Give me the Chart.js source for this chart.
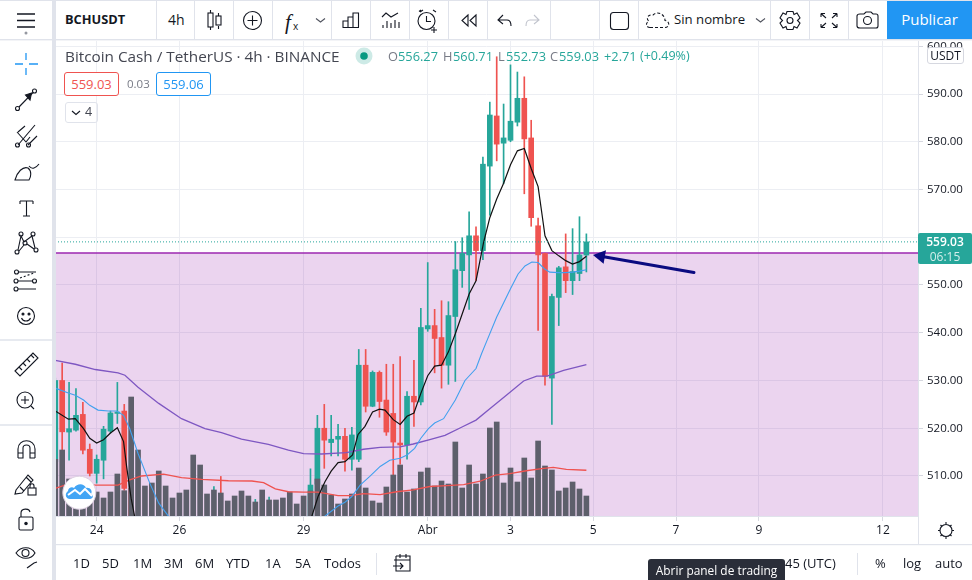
<!DOCTYPE html>
<html><head><meta charset="utf-8">
<script src="https://cdn.jsdelivr.net/npm/chart.js@4"></script>
<style>
html,body{margin:0;padding:0;background:#fff;width:972px;height:580px;overflow:hidden;font-family:"Open Sans",sans-serif;color:#131722}
#c{position:absolute;left:0;top:0}
.t{position:absolute;white-space:nowrap;line-height:1}
.box{position:absolute;box-sizing:border-box;border-radius:3px;background:#fff;text-align:center}
svg{position:absolute;left:0;top:0;pointer-events:none}
.g{color:#787b86}.v{color:#26a69a}
</style></head><body>
<canvas id="c" width="972" height="580" style="width:972px;height:580px"></canvas>
<svg width="972" height="580" viewBox="0 0 972 580" fill="none" stroke="#131722" stroke-width="1.1">
<!-- chrome backgrounds -->
<rect x="0" y="0" width="972" height="40" fill="#fff" stroke="none"/>
<rect x="0" y="0" width="52" height="580" fill="#fff" stroke="none"/>
<rect x="52" y="0" width="4" height="580" fill="#e0e3eb" stroke="none"/>
<rect x="0" y="0" width="972" height="1" fill="#e0e3eb" stroke="none"/>
<rect x="0" y="39" width="972" height="1.4" fill="#e0e3eb" stroke="none"/>
<rect x="56" y="544" width="916" height="36" fill="#fff" stroke="none"/>
<rect x="56" y="544" width="916" height="1.2" fill="#e0e3eb" stroke="none"/>
<g stroke="#e0e3eb" stroke-width="1">
<path d="M156.5 1V39M194.5 1V39M233.5 1V39M272.5 1V39M331.5 1V39M370.5 1V39M409.5 1V39M448.5 1V39M487.5 1V39M550.5 1V39M599.5 1V39M638.5 1V39M770.5 1V39M809.5 1V39M848.5 1V39"/>
<path d="M918.5 516V544M376.5 553V575M857.5 553V575"/>
<path d="M0 340H52M0 425H52" stroke-width="1.4"/>
</g>
<rect x="887" y="1" width="85" height="38" fill="#2196f3" stroke="none"/>
<!-- top toolbar icons -->
<path d="M17 14H35M17 20.5H35M17 27H35" stroke-width="1.6"/>
<circle cx="26" cy="33" r="1.5" fill="#9598a1" stroke="none"/>
<path d="M210.5 10V13M210.5 27V30M218.5 13V16M218.5 26V29"/><rect x="208" y="13" width="5" height="14"/><rect x="216" y="16" width="5" height="9"/>
<circle cx="252.5" cy="20.5" r="9"/><path d="M247.5 20.5H257.5M252.5 15.5V25.5"/>
<path d="M316 18.5L320.500 22L325 18.5" stroke="#50535e"/>
<path d="M342.500 27.500H359M343 27V21H348V27M348 27V17H353V27M353 27V13H358.500V27"/>
<path d="M382 17L386 13L391 17L398 13M383 28V25M387 28V21M391 28V23M395 28V20M399 28V22"/>
<circle cx="426.500" cy="21" r="8.500"/><path d="M426.500 16V21.500H431M420 12L423 10M433 10L436 12M419 11.500L421 10M434 27V33M431 30H437"/>
<path d="M468 15L462 20.500L468 26V15ZM476 15L470 20.500L476 26V15Z" stroke="#131722"/>
<path d="M503 15L498 20L503 24M498 20H507C510 20 511 23 511 26" />
<path d="M534 15L539 20L534 24M539 20H530C527 20 526 23 526 26" stroke="#c1c4cd"/>
<rect x="610.500" y="12.500" width="18" height="17" rx="3"/>
<path d="M650 27.500H665C670 27.500 670 21 665 20.500C665 15 658 10 653 15C647 14 646 20 649 21C645 23 646 27.500 650 27.500Z" stroke-dasharray="3 2"/>
<path d="M756 18.500L760.500 22L765 18.500" stroke="#50535e"/>
<circle cx="790" cy="20.500" r="3"/><path d="M787 11.500H793L794 14.500L797 13L800 18L797.500 20.500L800 23L797 28L794 26.500L793 29.500H787L786 26.500L783 28L780 23L782.500 20.500L780 18L783 13L786 14.500Z"/>
<path d="M821 13.500V17M821 13.500H825M821 13.500L826 18M837 13.500V17M837 13.500H833M837 13.500L832 18M821 27.500V24M821 27.500H825M821 27.500L826 23M837 27.500V24M837 27.500H833M837 27.500L832 23"/>
<path d="M860 14H864L866 12H871L873 14H876C877 14 878 15 878 16V26C878 27 877 28 876 28H860C858 28 857 27 857 26V16C857 15 858 14 860 14Z"/><circle cx="867.500" cy="20.500" r="4"/>
<!-- left toolbar icons -->
<path d="M26 53V60M26 68V75M15 64H23M29 64H38" stroke="#2196f3" stroke-width="1.3"/>
<circle cx="17.500" cy="108.500" r="2"/><circle cx="34.500" cy="91" r="2"/><path d="M19 107L33 92.500"/><path d="M25.500 95L31.500 93L30 100Z" fill="#131722"/>
<path d="M18 145L35 125M17 132L26 142L30 137M28 145L37 136M18 132L25 126M17 146h0"/><circle cx="17.500" cy="145" r="2"/><circle cx="28.500" cy="145" r="2"/>
<path d="M15 180C17 172 23 166 28 168C32 171 31 177 29 180ZM15 180H29M29 166C32 170 36 168 39 164"/>
<path d="M20 201H33M20 201V204M33 201V204M26.500 201V216M23 216H30"/>
<circle cx="17" cy="252" r="2"/><circle cx="21" cy="234" r="2"/><circle cx="25" cy="243" r="2"/><circle cx="33" cy="234" r="2"/><circle cx="36" cy="250" r="2"/>
<path d="M18 250L21 236L24 242L32 236L35 248M19 251L24 245M27 244L34 249"/>
<circle cx="16.500" cy="272" r="2"/><circle cx="34.500" cy="281" r="2"/><circle cx="16" cy="281" r="2"/><circle cx="16" cy="289" r="2"/>
<path d="M18 272H36M18 281H33M18 289H36" /><path d="M20 278L34 273" stroke-dasharray="2 2"/>
<circle cx="26" cy="316" r="8.500"/><circle cx="23" cy="314" r="1" fill="#131722"/><circle cx="29" cy="314" r="1" fill="#131722"/><path d="M21.500 318C23 322 29 322 30.500 318"/>
<path d="M15 371L33 353L38 358L20 376ZM19 367L22 370M23 363L26 366M27 359L30 362M31 355L34 358"/>
<circle cx="25" cy="400" r="8"/><path d="M21 400H29M25 396V404M31 406L34 409"/>
<path d="M18 458V449C18 438 35 438 35 449V458M18 453H23M30 453H35M18 458H23V448C23 444 30 444 30 448V458H35"/>
<path d="M16 490L28 475L33 480L22 493L15 494ZM26 477L31 482M20 487L24 491"/><rect x="28" y="488" width="8" height="7"/><path d="M30 488V486C30 483 34 483 34 486V488"/>
<rect x="19" y="517" width="14" height="13" rx="1.500"/><path d="M21 517V513C21 508 29 508 30 512"/><circle cx="26" cy="523.500" r="1.200" fill="#131722"/>
<path d="M16 553C21 546 31 546 35 553C31 560 21 560 16 553Z"/><circle cx="25.500" cy="553" r="3.500"/><path d="M27 568L34 563L37 562M27 568L30 566"/>
<!-- bottom icons -->
<path d="M394 560H410M396 556V571H410V556H396M400 554V558M406 554V558M393 566H403M400 563L403 566L400 569" stroke="#131722" fill="#fff"/>
<circle cx="946" cy="530.500" r="6"/><path d="M946 522V524M946 537V539M938 530.500H940M952 530.500H954M940.500 525L942 526.500M950 534.500L951.500 536M951.500 525L950 526.500M942 534.500L940.500 536"/>
<!-- logo -->
<circle cx="79.300" cy="492.700" r="16.500" fill="#fff" stroke="#dcd0e0" stroke-width="1"/>
<path d="M70 499C66 499 64 494 68 491C68 488 72 486 74 488C77 483 84 483 86 488C90 487 93 491 91 494C94 495 93 499 90 499Z" fill="#42a5f5" stroke="none"/>
<path d="M68 495L75 490L80 494L85 489L92 496" stroke="#fff" stroke-width="2"/>
<!-- symbol status dot -->
<circle cx="364" cy="56" r="8.500" fill="#cdeae6" stroke="none"/><circle cx="364" cy="56" r="3.800" fill="#089981" stroke="none"/>
<path d="M72 111L76 114.500L80 111" stroke="#131722"/>
</svg>

<div class="t" style="left:65px;top:13px;font-size:12.800px;font-weight:700">BCHUSDT</div>
<div class="t" style="left:168px;top:13px;font-size:14px">4h</div>
<div class="t" style="left:285px;top:10px;font:italic 21px 'Liberation Serif'">f</div>
<div class="t" style="left:293px;top:21px;font-size:10px">x</div>
<div class="t" style="left:674px;top:13px;font-size:13.200px">Sin nombre</div>
<div class="t" style="left:887px;top:12px;width:85px;text-align:center;color:#fff;font-size:15px">Publicar</div>

<div class="t" style="left:65px;top:49px;font-size:15.300px;color:#434651">Bitcoin Cash / TetherUS · 4h · BINANCE</div>
<div class="t g" style="left:388px;top:50px;font-size:12.800px">O</div><div class="t v" style="left:398px;top:50px;font-size:12.800px">556.27</div>
<div class="t g" style="left:443px;top:50px;font-size:12.800px">H</div><div class="t v" style="left:453px;top:50px;font-size:12.800px">560.71</div>
<div class="t g" style="left:498px;top:50px;font-size:12.800px">L</div><div class="t v" style="left:506px;top:50px;font-size:12.800px">552.73</div>
<div class="t g" style="left:550px;top:50px;font-size:12.800px">C</div><div class="t v" style="left:559px;top:50px;font-size:12.800px">559.03</div>
<div class="t v" style="left:604px;top:50px;font-size:12.800px">+2.71</div>
<div class="t v" style="left:640px;top:50px;font-size:12.500px">(+0.49%)</div>
<div class="box" style="left:64px;top:72px;width:55px;height:24px;border:1px solid #ef5350;color:#ef5350;font-size:13px;line-height:22px">559.03</div>
<div class="t" style="left:127px;top:78px;font-size:11.500px;color:#787b86">0.03</div>
<div class="box" style="left:156px;top:72px;width:55px;height:24px;border:1px solid #2196f3;color:#2196f3;font-size:13px;line-height:22px">559.06</div>
<div class="box" style="left:65px;top:102px;width:33px;height:21px;border:1px solid #e0e3eb;background:transparent"></div>
<div class="t" style="left:85px;top:106px;font-size:12.500px;color:#434651">4</div>
<div class="box" style="left:927px;top:47px;width:37px;height:17px;border:1px solid #d6d8e0;font-size:12px;line-height:15px">USDT</div>
<div class="box" style="left:918px;top:233px;width:54px;height:31px;border-radius:2px;background:#26a69a;color:#fff;font-size:12px;font-weight:600;line-height:15px;padding-top:1px">559.03<br><span style="font-weight:400;color:#d4eeeb">06:15</span></div>

<div class="t" style="left:73px;top:557px;font-size:13px">1D</div>
<div class="t" style="left:102px;top:557px;font-size:13px">5D</div>
<div class="t" style="left:133px;top:557px;font-size:13px">1M</div>
<div class="t" style="left:164px;top:557px;font-size:13px">3M</div>
<div class="t" style="left:195px;top:557px;font-size:13px">6M</div>
<div class="t" style="left:226px;top:557px;font-size:13px">YTD</div>
<div class="t" style="left:265px;top:557px;font-size:13px">1A</div>
<div class="t" style="left:295px;top:557px;font-size:13px">5A</div>
<div class="t" style="left:324px;top:557px;font-size:13px">Todos</div>
<div class="t" style="left:785px;top:557px;font-size:13px">45 (UTC)</div>
<div class="t" style="left:875px;top:557px;font-size:13px">%</div>
<div class="t" style="left:903px;top:557px;font-size:13px">log</div>
<div class="t" style="left:935px;top:557px;font-size:13px">auto</div>
<div class="t" style="left:648px;top:559px;width:137px;height:21px;background:#2a2e39;color:#fff;border-radius:3px 3px 0 0;font-size:11.900px;line-height:22px;text-align:center">Abrir panel de trading</div>

<script>
// ---- candles (index 0..77), 4h bars; indices 11..36 lie mostly below the visible range
const opens  = [513,530,519.2,519.6,522.9,515.6,510.55,513.3,519.4,523.1,523.6,507.4,495,493,491,494,492,495,493,496,494,487,489,492,495,493,494,492,495,493,497,492,497,494,496,493,495,500,508.3,520,517,517.7,518.3,513.5,513.5,533.2,524.6,531.7,525.9,523.1,516.9,516.5,526.7,525.5,540.8,541.5,539,533.2,543.4,553,556.3,560.3,557.2,574.9,585.4,579.7,580.3,584.1,589.1,580.8,562.4,556.6,530.5,547.4,553.8,550.9,552.4,556.27];
const highs  = [530.5,533.66,529.6,528.3,525.4,516.7,514.4,520.4,523.6,529.6,525,507.5,499,497,496,498,497,498,498,499,497,491,494,507.8,509.9,496,497,496,498,505.1,500,505.6,499,498,500,497,501,511.5,522.7,525,522.7,520.8,520,520.2,536.5,536.5,532,532,533.4,533.4,535,527.7,534.2,545.1,554.7,544.9,546.7,546.5,559.1,559.9,565.3,562.2,576.8,588.3,597.8,587.9,596.1,594.6,593.6,584.5,564,556.7,548.1,553.9,560.7,561.8,564.3,560.71];
const lows   = [512,514.7,513.3,519.4,514.6,510,508.5,509.4,519,521,507,492,490,489,488,490,489,491,490,492,484,481,486,490,491,490,491,489,492,491,490,491,493,492,490,491,494,498,506,511.6,514.2,514.2,511,511.2,513,523.4,524.5,522.3,518.5,510.2,512.5,513.5,520.4,524.9,540.3,531.6,528.4,529.2,529.8,549.5,544.9,550.9,555.3,564.6,576,571.2,580,583.3,569.1,562.3,540.5,529,520.8,541.5,548.4,548,550.9,552.73];
const closes = [530,519.25,519.9,522.7,515.4,510.55,513.5,519.8,523.2,523.4,507.4,495,493,491,494,492,495,493,496,494,487,489,492,495,493,494,492,495,493,497,492,497,494,496,493,495,500,508.1,520,517.5,517.7,518.3,513.5,518.6,533.2,524.6,531.7,525.6,519.2,517.1,516.5,526.7,525.5,541.1,541.5,538.8,533.2,543.6,553.2,556.6,560.3,557.2,575.3,585.6,579.5,580.8,584.3,589.1,580.6,564.1,556.3,530.9,547.6,553.6,550.9,552.8,556.3,559.03];
const volumes = [56.7,66,37,32.7,31,29.3,24,18,24,42,25.3,119,66,30,33,45,30,18,23,26,61,51,22,26,23,15,20,25,20,14,26,16,16,18,24,12,20,25,37,31,21,12,17,22,48,28,15,13,29,41,51,24,27,44,48,30,35,32,74,28,51,32,42,88,94,33,48,34,58,38,75,50,46,25,28,34,27,20];

// ---- moving averages: [bar index, price]
const blackLine = [[0,523.6],[1.9,521.9],[2.9,522],[4.1,519.9],[5,517.9],[6,516.9],[7,517.6],[8,519],[9,520.1],[9.9,517.2],[10.35,511.9],[11,505.3],[11.5,501.6],[13,495],null,[36,495],[37.2,501.6],[38.1,505.7],[39.1,508.8],[40,511],[41,512.8],[42,513],[43.1,514.4],[43.9,518.7],[44.9,520.4],[46,523.4],[47,524],[47.8,523.8],[49,521.8],[50,520.8],[51,522.5],[52,523.2],[53,527.3],[54,531],[55,533],[56,533.2],[57,536],[58,539.8],[60,548.1],[61,550.9],[62.1,558.9],[63,564.1],[64,568],[65,571.3],[66,575.2],[67,578.1],[68,578.6],[69,574.4],[70,570.6],[70.5,565.5],[71,560.3],[72,557.2],[73,556.1],[74,555.1],[75,554.4],[76,554.9],[77,556]];
const blueLine = [[0,528.4],[1.9,527.4],[2.9,526.9],[4.1,525.9],[5,524.8],[6.2,523.8],[7.7,523.6],[8.9,523.6],[9.9,522.7],[10.8,519.9],[12,514.7],[13.7,508.5],[15,504.3],[16.4,501.6],[18,497],null,[37,497],[39.1,501.6],[41,503.7],[42,504.5],[43,505.7],[44.2,508.1],[45.6,509.9],[47.1,512],[48.5,513.3],[50,513.7],[51,514.4],[52.1,515.8],[53,517.9],[54.1,519.9],[55,521.1],[56.3,522],[58,525.9],[59.4,530],[61,532.5],[61.8,535.6],[62.6,538.4],[64,543.3],[66,549.2],[67.1,552.3],[68.1,554],[69.1,554.8],[70,554.7],[70.9,553.4],[71.7,552.7],[73,552.6],[74,552.6],[75,552.7],[76,552.9],[77,553.2]];
const purpleLine = [[0,534.2],[2.9,533.4],[5.8,532.3],[9.1,531.6],[10.1,531.1],[12,528.6],[15,525.2],[18.3,522],[21.7,519.9],[24.1,519.1],[27,517.7],[30.9,516.6],[33.8,515.4],[36,514.7],[38.6,514.6],[42.2,514.9],[44.7,515.6],[47.1,516],[50,516.1],[51.9,516.7],[54.3,517.6],[56.5,518.5],[58.9,520.2],[61,521.7],[63,524.1],[65.4,526.9],[67.9,529.9],[69.8,530.9],[71.3,530.9],[73.7,532.1],[77,533.3]];
const redLine = [[0,507.4],[1.4,508.1],[2.9,508.3],[5.8,508.1],[9.1,508.1],[10.8,509.2],[12.5,510],[15.7,510.4],[18.3,509.65],[21.2,509.3],[25.1,509],[28.5,508.95],[30.2,508.6],[31.9,507.3],[33.8,506.7],[36,506.6],[38.1,506.6],[41,505.9],[42.8,505.9],[44.7,506.3],[47.1,506.1],[49.5,506.7],[51.9,507.1],[54.3,507.8],[56.8,508],[59.2,508.2],[61.6,508.9],[63.8,510.2],[65.9,510.5],[68.3,511.1],[70.8,511.6],[72.2,511.8],[74.1,511.4],[77,511.2]];

// ---- drawing annotations
const zonePrice = 556.7;
const lastPrice = 559.03;
const arrowLine = [[92.6,552.6],[79.1,556.0]];

// ---- axes
const priceTicks = [510,520,530,540,550,560,570,580,590,600];
const timeTicks = [6,18,36,54,66,78,90,102,120];
const timeLabels = ['24','26','29','Abr','3','5','7','9','12'];
const xMin = -0.04, xMax = 125.08, yMin = 501.62, yMax = 601.1;

const UP = '#26a69a', DOWN = '#ef5350';
const idx = closes.map((_, i) => i);
const candleColors = idx.map(i => closes[i] >= opens[i] ? UP : DOWN);
const pts = a => a.map(p => p ? {x: p[0], y: p[1]} : {x: null, y: null});
const line = (data, color, width, order, extra) => Object.assign({type:'line', data, borderColor:color, borderWidth:width, pointRadius:0, fill:false, order, tension:0, spanGaps:false}, extra||{});

new Chart(document.getElementById('c'), {
  type: 'bar',
  data: { datasets: [
    line([{x:xMin,y:zonePrice},{x:xMax,y:zonePrice}], '#9c27b0', 1.4, 20, {fill:'start', backgroundColor:'rgba(156,39,176,0.2)'}),
    {data: idx.map(i=>({x:i,y:[lows[i],highs[i]]})), backgroundColor:candleColors, barThickness:1, grouped:false, order:15},
    {data: idx.map(i=>({x:i,y:[opens[i],closes[i]]})), backgroundColor:candleColors, barThickness:5, grouped:false, order:14},
    {data: idx.map(i=>({x:i,y:volumes[i]})), backgroundColor:'#5d5f6b', barThickness:5, grouped:false, yAxisID:'vol', order:12},
    line(pts(redLine), '#ef5350', 1.3, 8),
    line(pts(purpleLine), '#7e57c2', 1.3, 8),
    line(pts(blueLine), '#42a0ee', 1.1, 7),
    line(pts(blackLine), '#111111', 1.2, 6),
    line([{x:xMin,y:lastPrice},{x:xMax,y:lastPrice}], '#26a69a', 1, 5, {borderDash:[1,2]}),
    line(pts(arrowLine), '#0a0a80', 3, 3, {pointRadius:[0,8], pointStyle:'triangle', pointRotation:-80, pointBackgroundColor:'#0a0a80', pointBorderColor:'#0a0a80', pointBorderWidth:0, borderCapStyle:'round'})
  ]},
  options: {
    responsive:false, animation:false, events:[],
    layout:{padding:{left:55,top:41,right:0,bottom:38}},
    plugins:{legend:{display:false},tooltip:{enabled:false}},
    scales:{
      x:{type:'linear',min:xMin,max:xMax,offset:false,
        grid:{offset:false,color:'#eceef3',lineWidth:1,tickLength:5,tickColor:'#d6d8e0'},
        border:{color:'#e0e3eb'},
        afterBuildTicks:s=>{s.ticks=timeTicks.map(v=>({value:v}))},
        afterFit:s=>{s.height=26},
        ticks:{autoSkip:false,maxRotation:0,padding:2,color:'#131722',font:{family:'Open Sans',size:12},
          callback:v=>timeLabels[timeTicks.indexOf(v)]}},
      y:{type:'linear',position:'right',min:yMin,max:yMax,
        grid:{color:'#eceef3',lineWidth:1,tickLength:5,tickColor:'#d6d8e0'},
        border:{color:'#e0e3eb'},
        afterBuildTicks:s=>{s.ticks=priceTicks.map(v=>({value:v}))},
        afterFit:s=>{s.width=54},
        ticks:{padding:4,color:'#131722',font:{family:'Open Sans',size:11.5},callback:v=>v.toFixed(2)}},
      vol:{type:'linear',display:false,min:0,max:475}
    }
  }
});
</script>
</body></html>
